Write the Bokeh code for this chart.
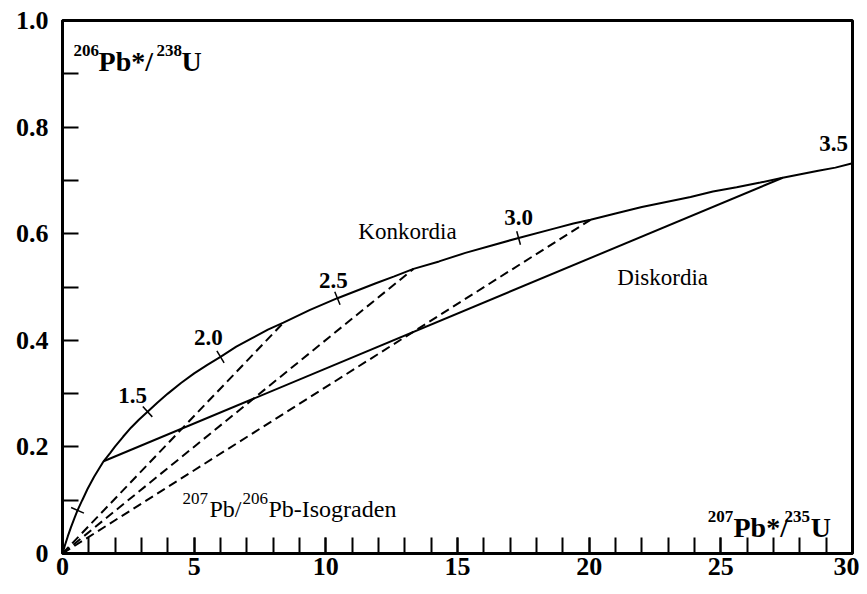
import math
from bokeh.plotting import figure
from bokeh.models import FixedTicker, Range1d
from bokeh.core.properties import value
from bokeh.embed import file_html
from bokeh.resources import INLINE

# ---- data ----
# Concordia curve (207Pb*/235U, 206Pb*/238U)
conc_x = [0, 0.09, 0.2, 0.32, 0.45, 0.57, 0.75, 0.95, 1.2, 1.56, 1.8, 2.0, 2.3, 2.6, 2.9,
          3.23, 3.6, 4.0, 4.5, 5.0, 5.5, 6.0, 6.6, 7.2, 7.8, 8.39, 9.4, 10.44, 11.9, 12.6,
          13.33, 14.3, 15.3, 16.3, 17.32, 18.7, 19.4, 20.05, 21.0, 22.0, 23.85, 24.7,
          25.6, 26.5, 27.35, 28.7, 29.35, 30.0]
conc_y = [0, 0.015, 0.032, 0.049, 0.066, 0.081, 0.100, 0.121, 0.144, 0.173, 0.188, 0.201,
          0.219, 0.236, 0.251, 0.266, 0.283, 0.300, 0.320, 0.338, 0.354, 0.369, 0.388,
          0.404, 0.420, 0.433, 0.457, 0.479, 0.507, 0.520, 0.534, 0.548, 0.564, 0.578,
          0.592, 0.610, 0.619, 0.626, 0.638, 0.650, 0.669, 0.679, 0.687, 0.696, 0.705,
          0.718, 0.724, 0.732]
# Discordia (lower and upper intercept)
disc_x = [1.56, 27.35]
disc_y = [0.173, 0.705]
# 207Pb/206Pb isochrons from the origin to the concordia
iso_x = [8.39, 13.33, 20.05]
iso_y = [0.433, 0.534, 0.626]
# Age ticks on concordia (Ga)
tick_age = [0.5, 1.5, 2.0, 2.5, 3.0]
tick_x = [0.57, 3.23, 6.0, 10.44, 17.32]
tick_y = [0.081, 0.266, 0.369, 0.479, 0.592]
# Age labels
age_labels = ["1.5", "2.0", "2.5", "3.0", "3.5"]
# Axis ticks
x_major = [0, 5, 10, 15, 20, 25, 30]
x_minor = list(range(1, 30))
y_major = [0, 0.2, 0.4, 0.6, 0.8, 1.0]
y_minor = [0.1, 0.3, 0.5, 0.7, 0.9]
y_labels = ["0", "0.2", "0.4", "0.6", "0.8", "1.0"]

FONT = value("Liberation Serif")

p = figure(width=859, height=586, x_range=Range1d(0, 30), y_range=Range1d(0, 1.0),
           output_backend="svg", toolbar_location=None,
           min_border_left=62, min_border_right=7, min_border_top=20, min_border_bottom=33)
p.grid.visible = False
p.outline_line_color = "black"
p.outline_line_width = 3
p.background_fill_color = "white"
p.border_fill_color = "white"

for ax in (p.xaxis[0], p.yaxis[0]):
    ax.axis_line_width = 3
    ax.major_tick_in = 16
    ax.major_tick_out = 0
    ax.minor_tick_in = 16
    ax.minor_tick_out = 0
    ax.major_tick_line_width = 2
    ax.minor_tick_line_width = 2
    ax.major_label_text_font = "Liberation Serif"
    ax.major_label_text_font_style = "bold"
    ax.major_label_text_font_size = "26px"
    ax.major_label_text_color = "black"

p.xaxis.ticker = FixedTicker(ticks=x_major, minor_ticks=x_minor)
p.yaxis.ticker = FixedTicker(ticks=y_major, minor_ticks=y_minor)
p.yaxis.major_label_overrides = {v: s for v, s in zip(y_major, y_labels)}
p.xaxis.major_label_standoff = 4
p.yaxis.major_label_standoff = 14

# concordia
p.line(conc_x, conc_y, line_color="black", line_width=2)
# discordia
p.line(disc_x, disc_y, line_color="black", line_width=2)
# isochrons
p.segment(x0=[0] * len(iso_x), y0=[0] * len(iso_y), x1=iso_x, y1=iso_y,
          line_color="black", line_width=2, line_dash="9 5")
# age ticks
tick_angles = [-23.6, -47.3, -58.7, -67.9, -74.7]
p.scatter(tick_x, tick_y, marker="dash", size=14, line_color="black", line_width=1.5,
          angle=[math.radians(a) for a in tick_angles])

# age labels
lab_x = [2.66, 5.54, 10.29, 17.32, 29.28]
lab_y = [0.296, 0.405, 0.512, 0.630, 0.769]
p.text(lab_x, lab_y, text=age_labels, text_font=FONT, text_font_style="bold",
       text_font_size="23px", text_align="center", text_baseline="middle", text_color="black")

# plain labels
p.text([13.1, 22.79], [0.604, 0.518], text=["Konkordia", "Diskordia"], text_font=FONT,
       text_font_size="23px", text_align="center", text_baseline="middle", text_color="black")

# Isograden label with superscripts
p.text([4.56, 6.84], [0.103, 0.103], text=["207", "206"], text_font=FONT,
       text_font_size="17px", text_align="left", text_baseline="alphabetic", text_color="black")
p.text([5.58, 7.82], [0.0844, 0.0844], text=["Pb/", "Pb-Isograden"], text_font=FONT,
       text_font_size="24px", text_align="left", text_baseline="alphabetic", text_color="black")

# axis titles with superscripts
p.text([0.42, 3.57, 24.5, 27.42], [0.944, 0.944, 0.0694, 0.0694],
       text=["206", "238", "207", "235"], text_font=FONT, text_font_style="bold",
       text_font_size="17px", text_align="left", text_baseline="alphabetic", text_color="black")
p.text([1.37, 4.52, 25.48, 28.41], [0.923, 0.923, 0.0488, 0.0488],
       text=["Pb*/", "U", "Pb*/", "U"], text_font=FONT, text_font_style="bold",
       text_font_size="28px", text_align="left", text_baseline="alphabetic", text_color="black")

open("out.html", "w").write(file_html(p, INLINE))
